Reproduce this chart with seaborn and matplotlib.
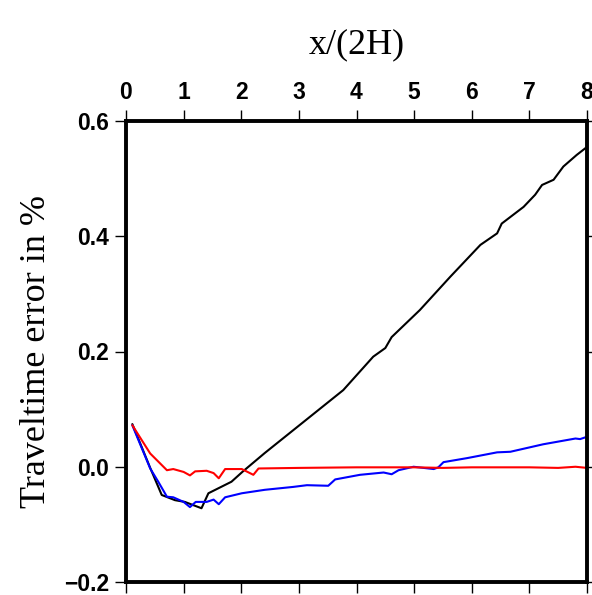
import matplotlib
matplotlib.use("Agg")
import matplotlib.pyplot as plt
import seaborn as sns

# series
black_x = [0.11, 0.42, 0.62, 0.85, 1.02, 1.31, 1.43, 1.83, 2.03, 2.41, 3.77, 4.29, 4.50, 4.61,
           5.10, 5.63, 6.15, 6.44, 6.52, 6.90, 7.10, 7.22, 7.42, 7.59, 7.82, 8.0]
black_y = [0.074, -0.002, -0.049, -0.058, -0.061, -0.072, -0.046, -0.026, -0.008, 0.024, 0.133,
           0.191, 0.206, 0.225, 0.272, 0.330, 0.385, 0.405, 0.422, 0.451, 0.472, 0.489, 0.498,
           0.521, 0.541, 0.555]

blue_x = [0.11, 0.42, 0.56, 0.71, 0.82, 1.0, 1.11, 1.21, 1.40, 1.52, 1.61, 1.72, 2.01, 2.41,
          2.90, 3.14, 3.51, 3.63, 4.06, 4.47, 4.61, 4.73, 4.99, 5.34, 5.42, 5.51, 5.92, 6.44,
          6.67, 7.24, 7.80, 7.88, 7.97]
blue_y = [0.072, -0.003, -0.026, -0.052, -0.053, -0.061, -0.070, -0.061, -0.061, -0.057, -0.065,
          -0.053, -0.046, -0.040, -0.035, -0.032, -0.033, -0.022, -0.014, -0.010, -0.013, -0.006,
          0.0, -0.004, -0.001, 0.008, 0.015, 0.025, 0.026, 0.039, 0.049, 0.048, 0.051]

red_x = [0.11, 0.42, 0.53, 0.71, 0.82, 1.0, 1.11, 1.20, 1.40, 1.52, 1.61, 1.72, 2.01, 2.21,
         2.30, 3.0, 4.0, 5.0, 5.5, 6.0, 7.0, 7.5, 7.8, 8.0]
red_y = [0.072, 0.023, 0.012, -0.006, -0.004, -0.009, -0.015, -0.008, -0.007, -0.011, -0.020,
         -0.004, -0.004, -0.014, -0.003, -0.002, -0.001, -0.001, -0.002, -0.001, -0.001, -0.002,
         0.000, -0.002]

x_ticks = [0, 1, 2, 3, 4, 5, 6, 7, 8]
y_ticks = [-0.2, 0.0, 0.2, 0.4, 0.6]

sns.set_style("ticks")
plt.rcParams['font.family'] = ['Liberation Sans', 'DejaVu Sans']
plt.rcParams['axes.unicode_minus'] = True

fig = plt.figure(figsize=(5.92, 5.95), dpi=100)
ax = fig.add_axes([126 / 592, 13 / 595, 461 / 592, 461 / 595])

sns.lineplot(x=black_x, y=black_y, ax=ax, color="black", linewidth=1.5, sort=False)
sns.lineplot(x=blue_x, y=blue_y, ax=ax, color="#0000ff", linewidth=1.5, sort=False)
sns.lineplot(x=red_x, y=red_y, ax=ax, color="#ff0000", linewidth=1.5, sort=False)

ax.set_xlim(0, 8)
ax.set_ylim(-0.2, 0.6)
ax.set_xticks(x_ticks)
ax.set_yticks(y_ticks)
ax.set_yticklabels([f"{v:.1f}".replace("-", "\u2212") for v in y_ticks])

ax.tick_params(axis="x", which="both", top=True, bottom=True, labeltop=True, labelbottom=False,
               direction="out", length=8, width=1, labelsize=16.5, pad=4, color="black",
               labelcolor="black")
ax.tick_params(axis="y", which="both", left=True, right=True, labelleft=True, labelright=False,
               direction="out", length=8, width=1, labelsize=16.5, pad=4, color="black",
               labelcolor="black")
for lab in ax.get_xticklabels() + ax.get_yticklabels():
    lab.set_fontweight("bold")

for sp in ax.spines.values():
    sp.set_linewidth(2.8)
    sp.set_color("black")

ax.xaxis.set_label_position("top")
ax.set_xlabel("x/(2H)", family=["Liberation Serif"], fontsize=26, labelpad=20, color="black")
ax.set_ylabel("Traveltime error in %", family=["Liberation Serif"], fontsize=26, labelpad=8,
              color="black")
ax.grid(False)

fig.savefig("out.png", dpi=100)
